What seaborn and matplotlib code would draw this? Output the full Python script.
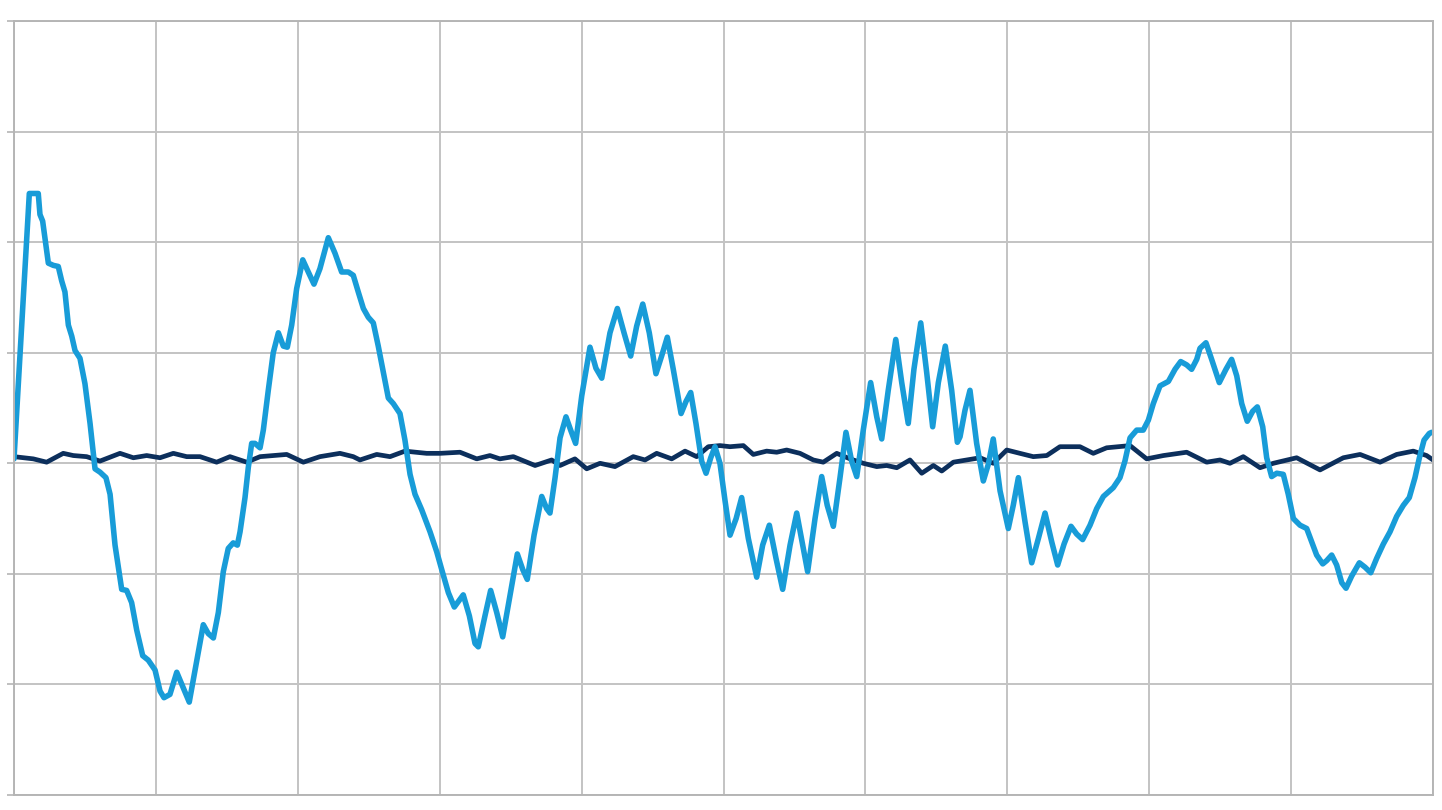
import matplotlib
matplotlib.use('Agg')
import matplotlib.pyplot as plt
import seaborn as sns

# Light blue signal (x in 0-100 grid units, y in grid units)
signal_x = [0, 1.08, 1.71, 1.83, 2.02, 2.42, 2.77, 3.12, 3.36, 3.59, 3.83, 4.07, 4.30, 4.65, 5.00,
            5.36, 5.71, 6.06, 6.48, 6.77, 7.12, 7.59, 7.94, 8.29, 8.65, 9.07, 9.46, 9.94, 10.29,
            10.57, 10.99, 11.47, 11.93, 12.35, 12.76, 13.34, 13.69, 14.05, 14.40, 14.75, 15.10,
            15.45, 15.74, 15.93, 16.28, 16.51, 16.75, 16.98, 17.34, 17.57, 17.92, 18.27, 18.63,
            18.98, 19.26, 19.57, 19.92, 20.35, 20.74, 21.14, 21.56, 22.15, 22.62, 23.09, 23.56,
            23.91, 24.26, 24.62, 24.97, 25.32, 25.67, 26.03, 26.38, 26.73, 27.20, 27.55, 27.91,
            28.26, 28.73, 29.32, 29.79, 30.14, 30.61, 31.03, 31.66, 32.09, 32.49, 32.72, 33.19,
            33.59, 34.02, 34.44, 34.95, 35.47, 35.85, 36.17, 36.65, 37.19, 37.54, 37.77, 38.13,
            38.48, 38.90, 39.23, 39.58, 40.01, 40.59, 41.01, 41.42, 42.00, 42.52, 42.99, 43.46,
            43.88, 44.31, 44.77, 45.24, 45.64, 46.04, 46.46, 47.01, 47.36, 47.69, 48.06, 48.46,
            48.77, 49.10, 49.40, 49.75, 50.11, 50.46, 50.89, 51.28, 51.75, 52.34, 52.76, 53.23,
            53.70, 54.17, 54.69, 55.16, 55.58, 55.93, 56.45, 56.92, 57.31, 57.74, 58.21, 58.63,
            59.03, 59.39, 59.85, 60.37, 60.80, 61.15, 61.61, 62.14, 62.56, 63.02, 63.42, 63.90,
            64.32, 64.74, 65.14, 65.63, 66.08, 66.48, 66.67, 67.02, 67.37, 67.84, 68.31, 68.66,
            69.01, 69.49, 70.07, 70.42, 70.78, 71.25, 71.72, 72.19, 72.66, 73.13, 73.55, 74.00,
            74.49, 74.89, 75.31, 75.83, 76.30, 76.77, 77.47, 77.94, 78.29, 78.65, 79.12, 79.58,
            79.94, 80.29, 80.76, 81.35, 81.82, 82.22, 82.64, 82.99, 83.35, 83.58, 84.00, 84.40,
            84.94, 85.41, 85.81, 86.17, 86.52, 86.91, 87.29, 87.62, 88.00, 88.28, 88.63, 88.99,
            89.45, 89.80, 90.16, 90.63, 91.10, 91.45, 91.80, 92.23, 92.51, 92.86, 93.21, 93.57,
            93.87, 94.27, 94.81, 95.21, 95.61, 96.03, 96.50, 96.97, 97.44, 97.91, 98.33, 98.73,
            99.04, 99.37, 99.74, 99.91]
signal_y = [0.04, 2.44, 2.44, 2.25, 2.19, 1.81, 1.79, 1.78, 1.65, 1.55, 1.25, 1.15, 1.02, 0.95, 0.72,
            0.36, -0.05, -0.08, -0.13, -0.28, -0.74, -1.14, -1.15, -1.26, -1.51, -1.74, -1.78, -1.87, -2.06,
            -2.12, -2.09, -1.89, -2.03, -2.16, -1.87, -1.46, -1.54, -1.58, -1.35, -0.98, -0.77,
            -0.72, -0.74, -0.62, -0.31, -0.04, 0.18, 0.18, 0.14, 0.30, 0.66, 1.00, 1.18,
            1.06, 1.05, 1.25, 1.58, 1.84, 1.73, 1.62, 1.76, 2.04, 1.90, 1.73, 1.73,
            1.70, 1.55, 1.40, 1.32, 1.27, 1.06, 0.82, 0.59, 0.54, 0.45, 0.21, -0.10,
            -0.28, -0.42, -0.62, -0.80, -0.96, -1.17, -1.30, -1.19, -1.38, -1.63, -1.66, -1.38,
            -1.15, -1.35, -1.57, -1.20, -0.82, -0.96, -1.05, -0.65, -0.30, -0.41, -0.45, -0.13,
            0.23, 0.42, 0.30, 0.18, 0.61, 1.05, 0.86, 0.77, 1.18, 1.40, 1.18, 0.97,
            1.24, 1.44, 1.18, 0.81, 0.97, 1.14, 0.85, 0.45, 0.56, 0.64, 0.36, 0.02,
            -0.09, 0.05, 0.15, 0.00, -0.34, -0.65, -0.50, -0.31, -0.68, -1.03, -0.74, -0.56,
            -0.86, -1.14, -0.74, -0.45, -0.74, -0.98, -0.50, -0.12, -0.38, -0.57, -0.13, 0.28,
            0.02, -0.12, 0.30, 0.73, 0.42, 0.22, 0.66, 1.12, 0.73, 0.36, 0.85, 1.27,
            0.82, 0.33, 0.73, 1.06, 0.66, 0.19, 0.24, 0.48, 0.66, 0.18, -0.16, -0.01,
            0.22, -0.25, -0.59, -0.38, -0.13, -0.53, -0.90, -0.68, -0.45, -0.71, -0.92, -0.73,
            -0.57, -0.64, -0.69, -0.56, -0.41, -0.30, -0.22, -0.13, 0.02, 0.23, 0.30, 0.30,
            0.39, 0.54, 0.70, 0.74, 0.85, 0.92, 0.89, 0.85, 0.94, 1.04, 1.09, 0.94,
            0.73, 0.85, 0.94, 0.79, 0.54, 0.38, 0.47, 0.51, 0.33, 0.05, -0.12, -0.09,
            -0.10, -0.28, -0.50, -0.56, -0.59, -0.71, -0.83, -0.91, -0.88, -0.83, -0.92, -1.08,
            -1.13, -1.02, -0.90, -0.94, -0.99, -0.86, -0.73, -0.62, -0.48, -0.38, -0.31, -0.13,
            0.05, 0.21, 0.27, 0.28]

# Dark navy line, stays close to zero
base_x = [0, 1.36, 2.30, 3.47, 4.18, 5.12, 6.06, 7.47, 8.41, 9.35, 10.29, 11.23, 12.17, 13.11,
          14.28, 15.22, 16.40, 17.34, 19.22, 20.39, 21.56, 22.97, 23.91,
          24.38, 25.56, 26.50, 27.55, 29.08, 30.02, 31.43, 32.61, 33.54, 34.24, 35.19, 36.72,
          37.89, 38.48, 39.53, 40.36, 41.30, 42.35, 43.64, 44.47, 45.29, 46.35, 47.29, 48.11, 48.93,
          49.75, 50.46, 51.40, 52.10, 53.04, 53.75, 54.45, 55.39, 56.33, 57.03, 57.98, 58.92,
          59.85, 60.80, 61.50, 62.21, 63.14, 63.97, 64.79, 65.38, 66.20, 67.14, 68.08, 69.01,
          69.96, 70.89, 71.83, 72.78, 73.71,
          75.12, 76.06, 77.00, 78.65, 79.82, 81.00, 82.64, 84.05, 84.99, 85.69, 86.63, 87.81,
          88.75, 90.39, 92.04, 93.68, 94.86, 96.27, 97.44, 98.61, 99.55, 100]
base_y = [0.06, 0.04, 0.01, 0.09, 0.07, 0.06, 0.02, 0.09, 0.05, 0.07, 0.05, 0.09, 0.06, 0.06,
          0.01, 0.06, 0.01, 0.06, 0.08, 0.01, 0.06, 0.09, 0.06,
          0.03, 0.08, 0.06, 0.11, 0.09, 0.09, 0.10, 0.04, 0.07, 0.04, 0.06, -0.02,
          0.03, -0.02, 0.04, -0.05, 0.00, -0.03, 0.06, 0.03, 0.09, 0.04, 0.11, 0.06, 0.15,
          0.16, 0.15, 0.16, 0.08, 0.11, 0.10, 0.12, 0.09, 0.03, 0.01, 0.09, 0.04,
          0.00, -0.03, -0.02, -0.04, 0.03, -0.09, -0.02, -0.07, 0.01, 0.03, 0.05, 0.00,
          0.12, 0.09, 0.06, 0.07, 0.15,
          0.15, 0.09, 0.14, 0.16, 0.04, 0.07, 0.10, 0.01, 0.03, 0.00, 0.06, -0.04,
          0.00, 0.05, -0.06, 0.05, 0.08, 0.01, 0.08, 0.11, 0.07, 0.03]

x_ticks = list(range(0, 101, 10))
y_ticks = list(range(-3, 5))

sns.set_style('white')
fig = plt.figure(figsize=(14.42, 8.10), dpi=100)
ax = fig.add_axes([14 / 1442, 1 - 795 / 810, (1433 - 14) / 1442, (795 - 21) / 810])

sns.lineplot(x=base_x, y=base_y, ax=ax, color='#0c2f5c', linewidth=3.4,
             estimator=None, sort=False)
sns.lineplot(x=signal_x, y=signal_y, ax=ax, color='#189cd8', linewidth=4.0,
             estimator=None, sort=False)
for line in ax.lines:
    line.set_solid_joinstyle('round')
    line.set_solid_capstyle('round')

ax.set_xlim(0, 100)
ax.set_ylim(-3, 4)
ax.set_xticks(x_ticks)
ax.set_yticks(y_ticks)
ax.set_xticklabels([])
ax.set_yticklabels([])
ax.grid(True, color='#c3c3c3', linewidth=1.4)
ax.set_axisbelow(True)
for spine in ax.spines.values():
    spine.set_visible(True)
    spine.set_color('#b5b5b5')
    spine.set_linewidth(1.4)
ax.tick_params(axis='y', left=True, length=5, color='#b5b5b5', width=1.2)
ax.tick_params(axis='x', bottom=False)

fig.savefig('out.png', dpi=100, facecolor='white')
